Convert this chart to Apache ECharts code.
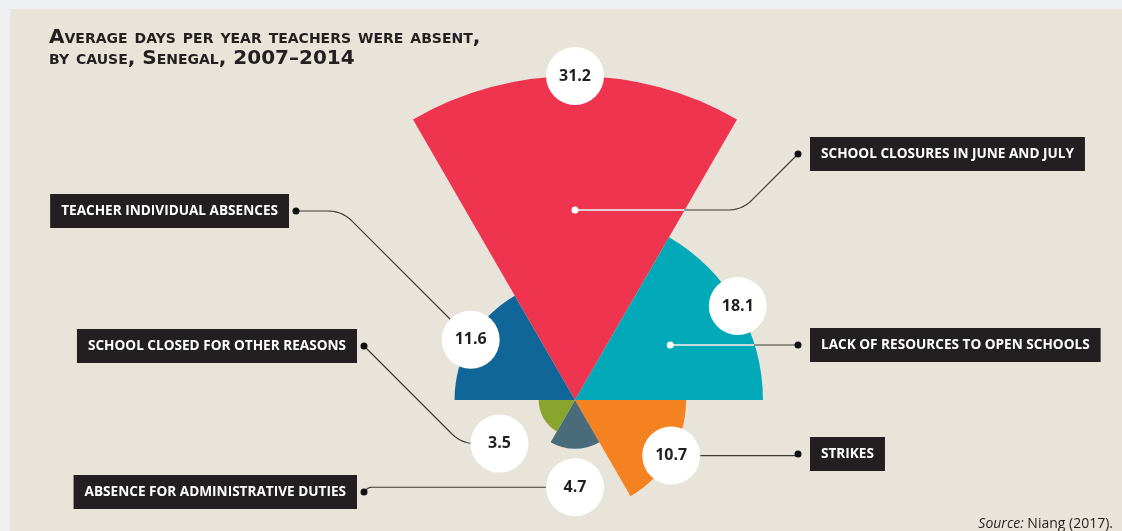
<!DOCTYPE html>
<html><head><meta charset="utf-8">
<script src="https://cdn.jsdelivr.net/npm/echarts@6/dist/echarts.min.js"></script>
<style>
html,body{margin:0;padding:0;background:#eff0f2;}
#c{width:1122px;height:531px;background:linear-gradient(#e8e4da,#e8e4da) no-repeat 10px 9px / 1112px 522px, #eff0f2;}
</style>
</head><body><div id="c"></div>
<script>
// ---- data ----
const categories = ['School closures in June and July', 'Lack of resources to open schools', 'Strikes',
  'Absence for administrative duties', 'School closed for other reasons', 'Teacher individual absences'];
const values = [31.2, 18.1, 10.7, 4.7, 3.5, 11.6];
const valueLabels = ['31.2', '18.1', '10.7', '4.7', '3.5', '11.6'];

// ---- styles / layout ----
const colors = ['#ef3450', '#02a9b9', '#f58220', '#4a6b7a', '#8aa52d', '#106699'];
const callouts = [
  { side: 'right', bx: 810, by: 154, target: 'anchor', ay: 210 },
  { side: 'right', bx: 810, by: 345, target: 'anchor', ay: 345 },
  { side: 'right', bx: 810, by: 454, target: 'circle' },
  { side: 'left', bx: 357, by: 492, target: 'circle' },
  { side: 'left', bx: 357, by: 346, target: 'circle' },
  { side: 'left', bx: 289, by: 211, target: 'circle', route: 'hd' }
];
const INK = '#231f20';
const n = categories.length;
const labelR = values.map(v => Math.max(v, 8.4));

const chart = echarts.init(document.getElementById('c'), null, { renderer: 'canvas' });
chart.setOption({
  animation: false,
  title: {
    text: 'Average days per year teachers were absent,\nby cause, Senegal, 2007–2014',
    left: 44, top: 22,
    textStyle: { fontStyle: 'small-caps', fontWeight: 'bold', fontSize: 20, lineHeight: 21,
      fontFamily: '"DejaVu Sans"', color: INK }
  },
  polar: { center: [575, 400], radius: 324 },
  angleAxis: {
    type: 'category', data: categories, startAngle: 120, clockwise: true, boundaryGap: true,
    axisLine: { show: false }, axisTick: { show: false }, axisLabel: { show: false }, splitLine: { show: false }
  },
  radiusAxis: {
    type: 'value', min: 0, max: Math.max(...values),
    axisLine: { show: false }, axisTick: { show: false }, axisLabel: { show: false }, splitLine: { show: false }
  },
  series: [
    {
      type: 'bar', coordinateSystem: 'polar', barCategoryGap: '0%', silent: true, z: 2,
      data: values.map((v, i) => ({ value: v, itemStyle: { color: colors[i] } }))
    },
    {
      type: 'scatter', coordinateSystem: 'polar', symbol: 'circle', symbolSize: 58, silent: true, z: 10,
      itemStyle: { color: '#ffffff', opacity: 1 },
      data: labelR.map((r, i) => [r, i]),
      label: {
        show: true, position: 'inside', formatter: p => valueLabels[p.dataIndex],
        color: INK, fontWeight: 'bold', fontSize: 16, fontFamily: '"Open Sans"'
      }
    }
  ]
});

// ---- annotations derived from the polar scale ----
const P = (r, i) => chart.convertToPixel({ seriesIndex: 1 }, [r, i]);
const c = P(0, 0);
function sectorInfo(i) {
  const m = P(values[i], i);
  const R = Math.hypot(m[0] - c[0], m[1] - c[1]);
  const mid = Math.atan2(m[0] - c[0], -(m[1] - c[1]));
  return { R, mid, half: Math.PI / n };
}
function exitX(i, ax, ay, dir) {
  const s = sectorInfo(i);
  let x = ax;
  for (let k = 0; k < 4000; k++) {
    const nx = x + dir * 0.5;
    const dx = nx - c[0], dy = ay - c[1];
    const r = Math.hypot(dx, dy);
    let a = Math.atan2(dx, -dy) - s.mid;
    a = Math.atan2(Math.sin(a), Math.cos(a));
    if (r > s.R || Math.abs(a) > s.half) break;
    x = nx;
  }
  return x;
}
function routePoints(p0, p1, route, rad) {
  const dx = p1[0] - p0[0], dy = p1[1] - p0[1];
  const sx = Math.sign(dx);
  const ady = Math.abs(dy), adx = Math.abs(dx);
  if (ady < 1 || adx <= ady) return [p0, p1];
  const bend = route === 'hd' ? [p1[0] - sx * ady, p0[1]] : [p0[0] + sx * ady, p1[1]];
  const s1 = [bend[0] - p0[0], bend[1] - p0[1]], l1 = Math.hypot(s1[0], s1[1]);
  const s2 = [p1[0] - bend[0], p1[1] - bend[1]], l2 = Math.hypot(s2[0], s2[1]);
  const r = Math.min(rad, l1 / 2, l2 / 2);
  const a = [bend[0] - s1[0] / l1 * r, bend[1] - s1[1] / l1 * r];
  const b = [bend[0] + s2[0] / l2 * r, bend[1] + s2[1] / l2 * r];
  const pts = [p0, a];
  for (let k = 1; k < 12; k++) {
    const t = k / 12, u = 1 - t;
    pts.push([u * u * a[0] + 2 * u * t * bend[0] + t * t * b[0], u * u * a[1] + 2 * u * t * bend[1] + t * t * b[1]]);
  }
  pts.push(b, p1);
  return pts;
}

const graphics = [];
callouts.forEach((co, i) => {
  const dotX = co.side === 'right' ? co.bx - 12 : co.bx + 7;
  const dot = [dotX, co.by];
  let target;
  if (co.target === 'anchor') {
    const s = sectorInfo(i);
    const t = (c[1] - co.ay) / Math.cos(s.mid);
    target = [c[0] + t * Math.sin(s.mid), co.ay];
  } else {
    target = P(labelR[i], i);
  }
  graphics.push({ type: 'polyline', z: 5, silent: true,
    shape: { points: routePoints(dot, target, co.route || 'dh', 14) },
    style: { stroke: '#3d3a38', lineWidth: 1.2, fill: null } });
  if (co.target === 'anchor') {
    const dir = Math.sign(dotX - target[0]) || 1;
    const ex = exitX(i, target[0], target[1], dir);
    graphics.push({ type: 'line', z: 6, silent: true,
      shape: { x1: target[0], y1: target[1], x2: ex, y2: target[1] },
      style: { stroke: '#ffffff', lineWidth: 1.5 } });
    graphics.push({ type: 'circle', z: 6, silent: true,
      shape: { cx: target[0], cy: target[1], r: 3.5 }, style: { fill: '#ffffff' } });
  }
  graphics.push({ type: 'circle', z: 6, silent: true,
    shape: { cx: dot[0], cy: dot[1], r: 3.5 }, style: { fill: '#111111' } });
  graphics.push({ type: 'text', z: 7, silent: true, x: co.bx, y: co.by,
    style: { text: categories[i].toUpperCase(), fill: '#ffffff', font: 'bold 13.6px "Open Sans"',
      backgroundColor: INK, padding: [10, 11, 10, 11],
      align: co.side === 'right' ? 'left' : 'right', verticalAlign: 'middle' } });
});
graphics.push({ type: 'text', z: 7, silent: true, x: 1113, y: 524,
  style: { text: '{i|Source:} Niang (2017).', fill: INK, font: '14px "Open Sans"',
    align: 'right', verticalAlign: 'middle',
    rich: { i: { fontStyle: 'italic', fontSize: 14, fontFamily: '"Open Sans"', fill: INK } } } });
chart.setOption({ graphic: graphics });
</script>
</body></html>
